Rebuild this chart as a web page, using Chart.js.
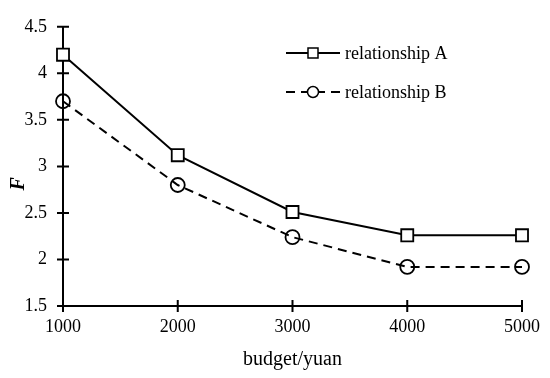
<!DOCTYPE html>
<html>
<head>
<meta charset="utf-8">
<script src="https://cdn.jsdelivr.net/npm/chart.js@4.4.0/dist/chart.umd.min.js"></script>
<style>
  html, body { margin: 0; padding: 0; background: #fff; }
  #wrap { width: 550px; height: 378px; }
</style>
</head>
<body>
<div id="wrap"><canvas id="grafica" width="550" height="378"></canvas></div>
<script>
// datos
const presupuestos = [1000, 2000, 3000, 4000, 5000];
const relacionA = [4.2, 3.12, 2.51, 2.26, 2.26];
const relacionB = [3.7, 2.8, 2.24, 1.92, 1.92];
const etiquetas = ["relationship A", "relationship B"];

const fuente = "'Liberation Serif', 'Times New Roman', serif";

const puntos = (xs, ys) => xs.map((x, i) => ({ x: x, y: ys[i] }));

// ticks que cruzan el eje (como en la figura original)
const ticksCruzados = {
    id: 'ticksCruzados',
    afterDraw(chart) {
        const ctx = chart.ctx;
        const x = chart.scales.x, y = chart.scales.y;
        ctx.save();
        ctx.strokeStyle = '#000';
        ctx.lineWidth = 2;
        ctx.beginPath();
        y.ticks.forEach(t => {
            const py = y.getPixelForValue(t.value);
            ctx.moveTo(x.left - 6, py);
            ctx.lineTo(x.left + 6, py);
        });
        x.ticks.forEach(t => {
            const px = x.getPixelForValue(t.value);
            ctx.moveTo(px, y.bottom - 6);
            ctx.lineTo(px, y.bottom + 6);
        });
        ctx.stroke();
        ctx.restore();
    }
};

// leyenda dibujada a mano dentro del area
const leyenda = {
    id: 'leyenda',
    afterDraw(chart) {
        const ctx = chart.ctx;
        ctx.save();
        chart.data.datasets.forEach((ds, i) => {
            const yy = 53 + i * 39;
            ctx.strokeStyle = '#000';
            ctx.lineWidth = 2;
            ctx.setLineDash(ds.borderDash || []);
            ctx.beginPath();
            ctx.moveTo(286, yy);
            ctx.lineTo(340, yy);
            ctx.stroke();
            ctx.setLineDash([]);
            ctx.fillStyle = '#fff';
            ctx.lineWidth = 1.5;
            ctx.beginPath();
            if (ds.pointStyle === 'rect') {
                ctx.rect(308, yy - 5, 10, 10);
            } else {
                ctx.arc(313, yy, 5.5, 0, Math.PI * 2);
            }
            ctx.fill();
            ctx.stroke();
            ctx.fillStyle = '#000';
            ctx.font = "18px " + fuente;
            ctx.textBaseline = 'middle';
            ctx.fillText(ds.label, 345, yy + 1);
        });
        ctx.restore();
    }
};

new Chart(document.querySelector("#grafica"), {
    type: 'line',
    data: {
        datasets: [
            {
                label: etiquetas[0],
                data: puntos(presupuestos, relacionA),
                borderColor: '#000',
                borderWidth: 2,
                pointStyle: 'rect',
                pointRadius: 8.5,
                pointBorderWidth: 1.8,
                pointBackgroundColor: '#fff',
                pointBorderColor: '#000',
                clip: false
            },
            {
                label: etiquetas[1],
                data: puntos(presupuestos, relacionB),
                borderColor: '#000',
                borderWidth: 2,
                borderDash: [9, 6],
                pointStyle: 'circle',
                pointRadius: 7,
                pointBorderWidth: 1.8,
                pointBackgroundColor: 'rgba(255,255,255,0)',
                pointBorderColor: '#000',
                clip: false
            }
        ]
    },
    options: {
        responsive: false,
        animation: false,
        layout: { padding: { top: 13, right: 24, left: 0, bottom: 0 } },
        plugins: { legend: { display: false }, tooltip: { enabled: false } },
        scales: {
            x: {
                type: 'linear',
                min: 1000,
                max: 5000,
                afterFit: s => { s.height = 72; },
                ticks: { stepSize: 1000, color: '#000', font: { family: fuente, size: 18 }, padding: 10,
                         callback: v => String(v) },
                grid: { display: false, drawTicks: false },
                border: { display: true, color: '#000', width: 2 },
                title: { display: true, text: 'budget/yuan', color: '#000', font: { family: fuente, size: 20 }, padding: { top: 4, bottom: 6 } }
            },
            y: {
                min: 1.5,
                max: 4.5,
                afterFit: s => { s.width = 63; },
                ticks: { stepSize: 0.5, color: '#000', font: { family: fuente, size: 18 }, padding: 16,
                         callback: v => String(v) },
                grid: { display: false, drawTicks: false },
                border: { display: true, color: '#000', width: 2 },
                // espacios al final para bajar la F como en el original
                title: { display: true, text: 'F       ', color: '#000', font: { family: fuente, size: 20, weight: 'bold', style: 'italic' }, padding: { top: 7, bottom: 4 } }
            }
        }
    },
    plugins: [ticksCruzados, leyenda]
});
</script>
</body>
</html>
